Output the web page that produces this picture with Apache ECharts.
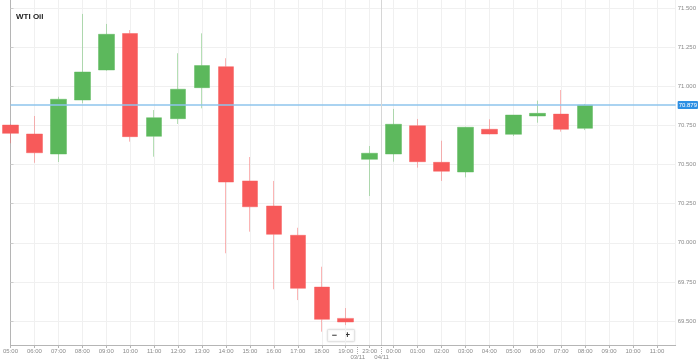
<!DOCTYPE html>
<html>
<head>
<meta charset="utf-8">
<script src="https://cdn.jsdelivr.net/npm/echarts@6/dist/echarts.min.js"></script>
<style>html,body{margin:0;padding:0;background:#fff}#c{width:699px;height:363px}</style>
</head>
<body>
<div id="c"></div>
<script>
const title = 'WTI Oil';
const hours = ['05:00','06:00','07:00','08:00','09:00','10:00','11:00','12:00','13:00','14:00','15:00','16:00','17:00','18:00','19:00','23:00','00:00','01:00','02:00','03:00','04:00','05:00','06:00','07:00','08:00','09:00','10:00','11:00'];
const opens  = [70.752,70.695,70.567,70.912,71.104,71.337,70.680,70.793,70.991,71.125,70.395,70.235,70.048,69.717,69.517,70.533,70.567,70.748,70.514,70.452,70.725,70.693,70.810,70.822,70.731];
const closes = [70.699,70.575,70.917,71.091,71.332,70.678,70.799,70.981,71.132,70.388,70.230,70.054,69.709,69.511,69.494,70.572,70.757,70.518,70.457,70.738,70.695,70.816,70.827,70.725,70.879];
const lows   = [70.636,70.511,70.516,70.891,71.100,70.646,70.550,70.759,70.859,69.933,70.071,69.703,69.634,69.432,69.474,70.299,70.518,70.480,70.395,70.418,70.693,70.682,70.767,70.710,70.720];
const highs  = [70.755,70.810,70.933,71.462,71.398,71.359,70.848,71.211,71.338,71.179,70.548,70.395,70.096,69.847,69.583,70.618,70.855,70.791,70.652,70.740,70.789,70.816,70.908,70.976,70.887];
const yTicks = [69.5,69.75,70,70.25,70.5,70.75,71,71.25,71.5];
const currentPrice = 70.879;
const dateMarks = [14.5, 15.5];
const dateLabels = ['03/11','04/11'];
const daySeparator = 15.5;

const candleData = opens.map((o, i) => [i, o, closes[i], lows[i], highs[i]]);
const dateMap = {};
dateMarks.forEach((v, i) => { dateMap[v] = dateLabels[i]; });

const chart = echarts.init(document.getElementById('c'), null, {renderer: 'canvas'});
const lbl = {fontFamily: 'Liberation Sans, Arial, sans-serif', fontSize: 6, color: '#8a8a8a'};
chart.setOption({
  animation: false,
  backgroundColor: '#fff',
  title: {
    text: title, left: 11, top: 8,
    textStyle: {fontFamily: 'Liberation Sans, Arial, sans-serif', fontSize: 8, fontWeight: 'bold', color: '#222'}
  },
  grid: {left: 7, right: 21, top: 0, bottom: 18, containLabel: false},
  xAxis: [{
    type: 'value', min: 0, max: 27.78, interval: 1,
    axisLine: {show: true, lineStyle: {color: '#b5b5b5', width: 1}},
    axisTick: {show: true, length: 3, lineStyle: {color: '#b5b5b5'}},
    axisLabel: Object.assign({}, lbl, {margin: 3, showMaxLabel: false,
      formatter: v => Number.isInteger(v) && hours[v] ? hours[v] : ''}),
    splitLine: {show: true, lineStyle: {color: '#f0f0f0', width: 1}}
  }, {
    type: 'value', min: 0, max: 27.78, position: 'bottom',
    axisLine: {show: false},
    axisTick: {show: true, length: 9, customValues: dateMarks, lineStyle: {color: '#aaa', type: 'dotted'}},
    axisLabel: Object.assign({}, lbl, {margin: 9, customValues: dateMarks,
      formatter: v => dateMap[v] || ''}),
    splitLine: {show: false}
  }],
  yAxis: {
    type: 'value', position: 'right', min: 69.347, max: 71.551,
    axisLine: {show: true, lineStyle: {color: '#b5b5b5'}},
    axisTick: {show: true, length: 3, customValues: yTicks, lineStyle: {color: '#ccc'}},
    axisLabel: Object.assign({}, lbl, {margin: 2, customValues: yTicks, formatter: v => v.toFixed(3)}),
    splitLine: {show: true, lineStyle: {color: '#f0f0f0'}}
  },
  series: [{
    type: 'candlestick',
    data: candleData,
    encode: {x: 0, y: [1, 2, 3, 4]},
    barWidth: 16,
    itemStyle: {
      color: '#5cb85c', color0: '#f75a5a',
      borderColor: 'rgba(92,184,92,0.45)', borderColor0: 'rgba(247,90,90,0.45)',
      borderWidth: 1
    },
    markLine: {
      silent: true, symbol: ['none', 'none'],
      data: [
        {yAxis: currentPrice, lineStyle: {color: '#8ec5ec', width: 1.5, type: 'solid'},
         label: {show: true, position: 'end', distance: 2, formatter: () => currentPrice.toFixed(3),
                 backgroundColor: '#2d8fe3', color: '#fff', fontSize: 6, padding: [1, 1, 1, 1],
                 fontFamily: 'Liberation Sans, Arial, sans-serif', borderRadius: 1}},
        {xAxis: daySeparator, lineStyle: {color: '#d6d6d6', width: 1, type: 'solid'}, label: {show: false}}
      ]
    }
  }],
  graphic: [{
    type: 'group', left: 327, top: 329,
    children: [
      {type: 'rect', shape: {x: 0, y: 0, width: 27, height: 12, r: 1},
       style: {fill: '#fff', stroke: '#e3e3e3', lineWidth: 1, shadowBlur: 2, shadowColor: 'rgba(0,0,0,0.12)'}},
      {type: 'text', x: 7, y: 6, style: {text: '−', fill: '#333', font: 'bold 9px Liberation Sans', align: 'center', verticalAlign: 'middle'}},
      {type: 'text', x: 20, y: 6, style: {text: '+', fill: '#333', font: 'bold 9px Liberation Sans', align: 'center', verticalAlign: 'middle'}}
    ]
  }]
});
</script>
</body>
</html>
